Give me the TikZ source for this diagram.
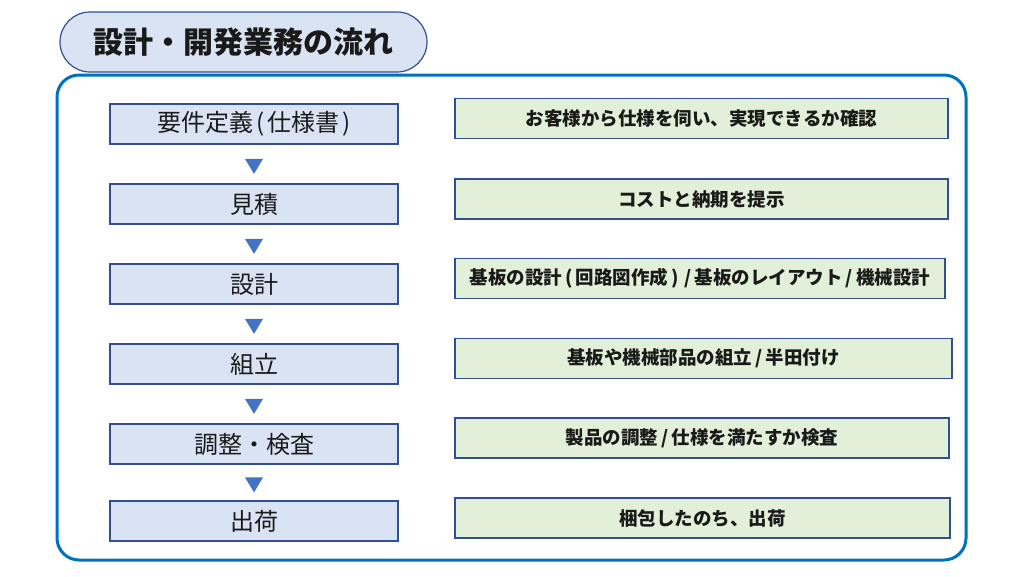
\documentclass[tikz,border=0pt]{standalone}
\usepackage{fontspec}
\setmainfont{Noto Sans CJK JP}
\usetikzlibrary{shapes.geometric,calc}
\definecolor{lbfill}{HTML}{DAE3F3}
\definecolor{gfill}{HTML}{E2F0D9}
\definecolor{bline}{HTML}{2F528F}
\definecolor{outer}{HTML}{0070C0}
\definecolor{trif}{HTML}{4472C4}
\definecolor{txt}{HTML}{1A1A1A}
\newcommand{\padsym}[1]{\hspace{3pt}#1\hspace{3pt}}
\tikzset{
  titlebox/.style={draw=bline, line width=1.2pt, fill=lbfill, rounded corners=30pt,
    minimum width=367pt, minimum height=60pt, inner sep=0pt, text=txt,
    font=\fontsize{30}{32}\selectfont\bfseries},
  lbox/.style={draw=bline, line width=1.1pt, fill=lbfill, minimum width=288pt,
    minimum height=40pt, inner sep=0pt, text=txt, font=\fontsize{24}{26}\selectfont},
  rbox/.style={draw=bline, line width=1.1pt, fill=gfill,
    minimum height=40pt, inner sep=0pt, text=txt, font=\fontsize{18.5}{20}\selectfont\bfseries},
  tri/.style={isosceles triangle, shape border rotate=-90, isosceles triangle apex angle=62,
    fill=trif, draw=none, minimum width=18pt, minimum height=15pt, inner sep=0pt}
}
\begin{document}
\begin{tikzpicture}[x=1pt,y=-1pt]
\useasboundingbox (0,0) rectangle (1024,576);
% outer frame
\draw[outer, line width=3pt, rounded corners=22pt] (57,75) rectangle (966,560);
% title
\node[titlebox] (title) at (243.5,42) {設計・開発業務の流れ};
% left steps
\node[lbox] (l1) at (254,124) {要件定義\padsym{(}仕様書\padsym{)}};
\node[lbox] (l2) at (254,204) {見積};
\node[lbox] (l3) at (254,284) {設計};
\node[lbox] (l4) at (254,364) {組立};
\node[lbox] (l5) at (254,444) {調整・検査};
\node[lbox] (l6) at (254,521) {出荷};
% arrows
\foreach \a/\b in {l1/l2,l2/l3,l3/l4,l4/l5,l5/l6}{
  \node[tri] (t\a) at ($(\a.south)!0.5!(\b.north)$) {};
}
% right descriptions
\node[rbox, minimum width=493pt] (r1) at (701.5,118.5) {お客様から仕様を伺い、実現できるか確認};
\node[rbox, minimum width=493pt] (r2) at (701.5,199) {コストと納期を提示};
\node[rbox, minimum width=490pt] (r3) at (700,278.5) {基板の設計\padsym{(}回路図作成\padsym{)}\padsym{/}基板のレイアウト\padsym{/}機械設計};
\node[rbox, minimum width=497pt] (r4) at (703.5,358.5) {基板や機械部品の組立\padsym{/}半田付け};
\node[rbox, minimum width=494pt] (r5) at (702,438) {製品の調整\padsym{/}仕様を満たすか検査};
\node[rbox, minimum width=495pt] (r6) at (702.5,518) {梱包したのち、出荷};
\end{tikzpicture}
\end{document}
